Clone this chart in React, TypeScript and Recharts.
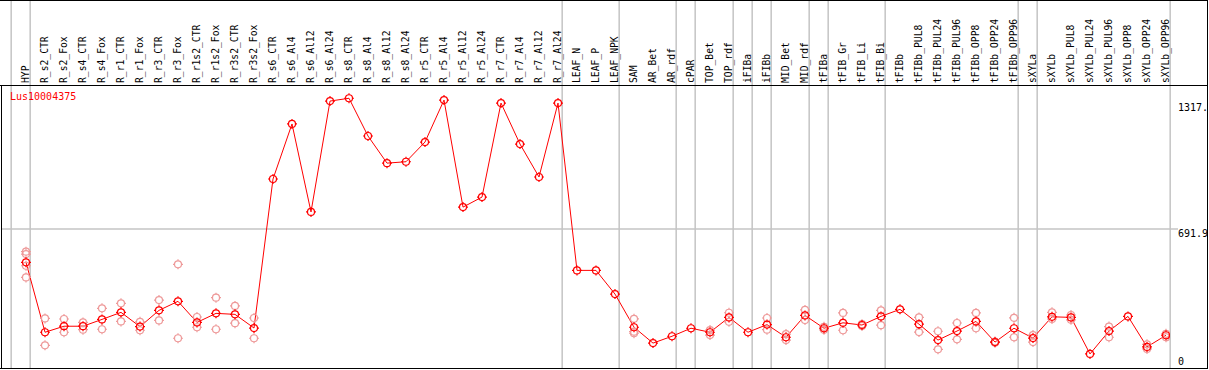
import { ComposedChart, Line, XAxis, YAxis, ReferenceLine } from "recharts";

const categories = [
  "HYP", "R_s2_CTR", "R_s2_Fox", "R_s4_CTR", "R_s4_Fox", "R_r1_CTR", "R_r1_Fox",
  "R_r3_CTR", "R_r3_Fox", "R_r1s2_CTR", "R_r1s2_Fox", "R_r3s2_CTR", "R_r3s2_Fox",
  "R_s6_CTR", "R_s6_Al4", "R_s6_Al12", "R_s6_Al24", "R_s8_CTR", "R_s8_Al4",
  "R_s8_Al12", "R_s8_Al24", "R_r5_CTR", "R_r5_Al4", "R_r5_Al12", "R_r5_Al24",
  "R_r7_CTR", "R_r7_Al4", "R_r7_Al12", "R_r7_Al24", "LEAF_N", "LEAF_P", "LEAF_NPK",
  "SAM", "AR_Bet", "AR_rdf", "cPAR", "TOP_Bet", "TOP_rdf", "iFIBa", "iFIBb",
  "MID_Bet", "MID_rdf", "tFIBa", "tFIB_Gr", "tFIB_Li", "tFIB_Bi", "tFIBb",
  "tFIBb_PUL8", "tFIBb_PUL24", "tFIBb_PUL96", "tFIBb_OPP8", "tFIBb_OPP24",
  "tFIBb_OPP96", "sXYLa", "sXYLb", "sXYLb_PUL8", "sXYLb_PUL24", "sXYLb_PUL96",
  "sXYLb_OPP8", "sXYLb_OPP24", "sXYLb_OPP96",
];

const means = [
  526, 178, 208, 208, 242, 277, 206, 287, 332, 227, 272, 267, 199,
  941, 1215, 777, 1329, 1343, 1155, 1020, 1027, 1125, 1334, 801, 851,
  1319, 1115, 951, 1319, 486, 486, 368,
  203, 124, 158, 198, 178, 252, 178, 216, 153, 262, 198, 225, 214, 257, 292,
  218, 139, 184, 232, 129, 198, 149, 255, 252, 70, 184, 257, 105, 163,
];

const replicates: number[][] = [
  [579, 567, 509, 451], [247, 113], [244, 178], [227, 191], [297, 193],
  [322, 232], [230, 188], [338, 237], [516, 148], [254, 203], [350, 193],
  [309, 223], [249, 148],
  [], [], [], [], [], [], [], [], [], [], [], [], [], [], [], [],
  [], [], [],
  [245, 181, 173], [], [], [], [189, 164], [275, 230], [], [249, 191],
  [169, 139], [289, 239], [190, 205], [274, 188], [218, 209], [287, 213], [],
  [252, 179], [183, 93], [224, 143], [274, 198], [132, 126], [250, 153],
  [164, 129], [277, 244], [264, 240], [], [206, 153], [], [118, 95], [153, 170],
];

// last column index of each group (gray separators drawn just right of them)
const groupEnds = [0, 1, 29, 32, 35, 36, 38, 39, 40, 42, 43, 46, 53, 54, 61];

const yTicks = [0, 691.9, 1317];
const yTickLabels = ["0", "691.9", "1317."];

const W = 1209;
const H = 370;
const STEP = 19;
const PLOT_LEFT = 1;
const PLOT_RIGHT = 1170;
const X0 = 1 - (26 - PLOT_LEFT) / STEP;
const X1 = X0 + (PLOT_RIGHT - PLOT_LEFT) / STEP;
const Y_MAX = 1409;
const RED = "#ff0000";
const PINK = "#ee9a9a";
const GRAY = "#c4c4c4";
const FONT = "'DejaVu Sans Mono', 'Liberation Mono', monospace";

const rows = categories.map((name, i) => {
  const row: Record<string, number | string | undefined> = { x: i + 1, name, mean: means[i] };
  for (let k = 0; k < 4; k++) row["r" + k] = replicates[i][k];
  return row;
});

function Marker({ cx, cy, color }: { cx?: number; cy?: number; color: string }) {
  if (cx == null || cy == null || isNaN(cx) || isNaN(cy)) return <g />;
  const r = 3.5;
  return (
    <g stroke={color} strokeWidth={1.2} fill="none">
      <circle cx={cx} cy={cy} r={r} />
      <line x1={cx} y1={cy - r} x2={cx} y2={cy - r - 1.5} />
      <line x1={cx} y1={cy + r} x2={cx} y2={cy + r + 1.5} />
      <line x1={cx - r} y1={cy} x2={cx - r - 1.5} y2={cy} />
      <line x1={cx + r} y1={cy} x2={cx + r + 1.5} y2={cy} />
    </g>
  );
}

function HeaderTick(props: any) {
  const { x, payload } = props;
  const label = categories[payload.value - 1];
  if (!label) return <g />;
  const tx = x + 2.8;
  const ty = 83;
  return (
    <text
      x={tx}
      y={ty}
      transform={`rotate(-90 ${tx} ${ty})`}
      textAnchor="start"
      fontFamily={FONT}
      fontSize={9.7}
      fill="#000"
    >
      {label}
    </text>
  );
}

function ValueTick(props: any) {
  const { y, payload } = props;
  const idx = yTicks.indexOf(payload.value);
  const baseline = payload.value === 0 ? y - 3 : y + 7.5;
  return (
    <text x={1178} y={baseline} fontFamily={FONT} fontSize={10} fill="#000">
      {yTickLabels[idx]}
    </text>
  );
}

export default function App() {
  return (
    <div style={{ position: "absolute", left: 0, top: 0, width: W, height: H, background: "#fff" }}>
      <ComposedChart
        width={W}
        height={H}
        data={rows}
        margin={{ top: 0, right: 1, bottom: 2, left: PLOT_LEFT }}
      >
        <XAxis
          dataKey="x"
          type="number"
          orientation="top"
          height={85}
          domain={[X0, X1]}
          ticks={categories.map((_, i) => i + 1)}
          interval={0}
          tick={<HeaderTick />}
          tickLine={false}
          axisLine={false}
          allowDataOverflow
        />
        <YAxis
          type="number"
          orientation="right"
          width={38}
          domain={[0, Y_MAX]}
          ticks={yTicks}
          interval={0}
          tick={<ValueTick />}
          tickLine={false}
          axisLine={false}
          allowDataOverflow
        />
        <ReferenceLine
          segment={[{ x: X0, y: 691.9 }, { x: X1 + 8 / STEP, y: 691.9 }]}
          stroke={GRAY}
          strokeWidth={1.5}
          ifOverflow="visible"
        />
        {groupEnds.map((g) => (
          <ReferenceLine
            key={g}
            segment={[{ x: g + 0.22, y: 0 }, { x: g + 0.22, y: 1850 }]}
            stroke={GRAY}
            strokeWidth={1.5}
            ifOverflow="visible"
          />
        ))}
        {[0, 1, 2, 3].map((k) => (
          <Line
            key={k}
            dataKey={"r" + k}
            stroke="none"
            isAnimationActive={false}
            connectNulls={false}
            legendType="none"
            dot={(p: any) => <Marker key={`r${k}-${p.index}`} cx={p.cx} cy={p.cy} color={PINK} />}
            activeDot={false}
          />
        ))}
        <Line
          dataKey="mean"
          stroke={RED}
          strokeWidth={1}
          isAnimationActive={false}
          dot={(p: any) => <Marker key={`m-${p.index}`} cx={p.cx} cy={p.cy} color={RED} />}
          activeDot={false}
        />
      </ComposedChart>
      {/* frame lines */}
      <div style={{ position: "absolute", left: 0, top: 0, width: 1208, height: 1, background: "#000" }} />
      <div style={{ position: "absolute", left: 0, top: 85, width: 1208, height: 1, background: "#000" }} />
      <div style={{ position: "absolute", left: 0, top: 368, width: 1208, height: 1, background: "#000" }} />
      <div style={{ position: "absolute", left: 1, top: 85, width: 1, height: 284, background: "#000" }} />
      <div style={{ position: "absolute", left: 1207, top: 0, width: 1, height: 369, background: "#000" }} />
      <div
        style={{
          position: "absolute",
          left: 10,
          top: 91,
          fontFamily: FONT,
          fontSize: 10,
          lineHeight: "12px",
          color: RED,
        }}
      >
        Lus10004375
      </div>
    </div>
  );
}
